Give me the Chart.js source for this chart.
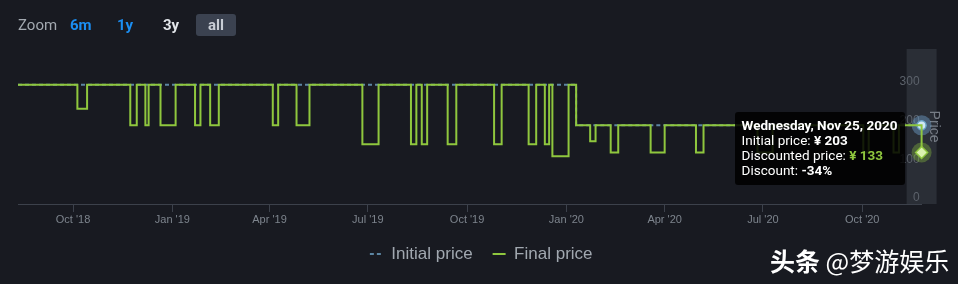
<!DOCTYPE html>
<html lang="en">
<head>
<meta charset="UTF-8">
<title>Price history</title>
<script src="https://cdn.jsdelivr.net/npm/chart.js"></script>
<style>
    body { margin: 0; background: #181a21; font-family: Roboto, Arial, sans-serif; }
    #wrap { position: relative; width: 958px; height: 284px; overflow: hidden; }
    #chart { position: absolute; left: 0; top: 0; }
    .zb { position: absolute; top: 14px; height: 22px; line-height: 22px; font-size: 15px; }
    #zoomLabel { left: 18px; color: #a3a9b0; }
    #z6m { left: 70px; color: #1b8ef2; font-weight: bold; }
    #z1y { left: 117px; color: #1b8ef2; font-weight: bold; }
    #z3y { left: 163px; color: #e2e6ea; font-weight: bold; }
    #zall { left: 196px; width: 40px; text-align: center; background: #3b4250; color: #c9ced6; font-weight: bold; border-radius: 3px; }
    #tip { position: absolute; background: rgba(0,0,0,0.86); color: #fff; font-size: 13.5px; line-height: 15px;
           padding: 6px 7px 7px 7px; border-radius: 3px; white-space: nowrap; pointer-events: none; opacity: 0; }
    #tip .g { color: #8fc73e; }
    #mark { position: absolute; left: 770px; top: 242px; color: #fff; font-family: "Noto Sans CJK SC", sans-serif;
            font-size: 25px; white-space: nowrap; }
    #mark b { font-weight: 700; }
</style>
</head>
<body>
<div id="wrap">
    <canvas id="chart" width="958" height="284"></canvas>
    <span class="zb" id="zoomLabel">Zoom</span>
    <span class="zb" id="z6m">6m</span>
    <span class="zb" id="z1y">1y</span>
    <span class="zb" id="z3y">3y</span>
    <span class="zb" id="zall">all</span>
    <div id="tip"></div>
    <div id="mark"><b>头条</b> @梦游娱乐</div>
</div>

<script>
    // price change points (value holds until the next date)
    const initialDates = ['2018-08-11', '2020-01-10', '2020-11-25'];
    const initialValues = [308, 203, 203];

    const finalDates = [
        '2018-08-11', '2018-10-05', '2018-10-14', '2018-11-23', '2018-11-29', '2018-12-07', '2018-12-10',
        '2018-12-21', '2019-01-04', '2019-01-22', '2019-01-27', '2019-02-05', '2019-02-13', '2019-04-04',
        '2019-04-09', '2019-04-26', '2019-05-08', '2019-06-26', '2019-07-11', '2019-08-10', '2019-08-15',
        '2019-08-20', '2019-08-25', '2019-09-13', '2019-09-21', '2019-10-26', '2019-11-02', '2019-11-27',
        '2019-12-04', '2019-12-12', '2019-12-16', '2019-12-19', '2020-01-03', '2020-01-10', '2020-01-23',
        '2020-01-28', '2020-02-11', '2020-02-18', '2020-03-19', '2020-04-01', '2020-04-30', '2020-05-07',
        '2020-06-26', '2020-07-10', '2020-10-02', '2020-10-07', '2020-10-30', '2020-11-04', '2020-11-25'
    ];
    const finalValues = [
        308, 246, 308, 203, 308, 203, 308,
        203, 308, 203, 308, 203, 308, 203,
        308, 203, 308, 154, 308, 154, 308,
        154, 308, 154, 308, 154, 308, 154,
        308, 154, 308, 123, 308, 203, 162,
        203, 133, 203, 133, 203, 133, 203,
        133, 203, 133, 203, 133, 203, 133
    ];

    const tickDates = ['2018-10-01', '2019-01-01', '2019-04-01', '2019-07-01', '2019-10-01',
                       '2020-01-01', '2020-04-01', '2020-07-01', '2020-10-01'];
    const tickLabels = ["Oct '18", "Jan '19", "Apr '19", "Jul '19", "Oct '19",
                        "Jan '20", "Apr '20", "Jul '20", "Oct '20"];
    const yTicks = [0, 100, 200, 300];

    const toPoints = (dates, values) => dates.map((d, i) => ({ x: Date.parse(d), y: values[i] }));

    const GREEN = '#8fc73e';
    const BLUE = '#5c86a3';
    const DAYS = ['Sunday', 'Monday', 'Tuesday', 'Wednesday', 'Thursday', 'Friday', 'Saturday'];
    const MONTHS = ['Jan', 'Feb', 'Mar', 'Apr', 'May', 'Jun', 'Jul', 'Aug', 'Sep', 'Oct', 'Nov', 'Dec'];

    // grey crosshair band behind the hovered date, and halos under the markers
    const bandPlugin = {
        id: 'band',
        beforeDraw(chart) {
            const act = chart.getActiveElements();
            if (!act.length) return;
            const x = act[0].element.x;
            const { top, bottom } = chart.chartArea;
            const ctx = chart.ctx;
            ctx.save();
            ctx.fillStyle = '#2a2e36';
            ctx.fillRect(x - 15, top, 30, bottom - top);
            ctx.restore();
        },
        beforeDatasetsDraw(chart) {
            const ctx = chart.ctx;
            chart.getActiveElements().forEach(a => {
                ctx.save();
                ctx.fillStyle = a.datasetIndex === 0 ? 'rgba(110,160,205,0.45)' : 'rgba(143,199,62,0.35)';
                ctx.beginPath();
                ctx.arc(a.element.x, a.element.y, 10, 0, Math.PI * 2);
                ctx.fill();
                ctx.restore();
            });
        }
    };

    function externalTip(context) {
        const tip = document.getElementById('tip');
        const tooltip = context.tooltip;
        if (tooltip.opacity === 0 || !tooltip.dataPoints) { tip.style.opacity = 0; return; }
        let init = null, fin = null, x = 0;
        tooltip.dataPoints.forEach(p => {
            x = p.raw.x;
            if (p.datasetIndex === 0) init = p.raw.y; else fin = p.raw.y;
        });
        const d = new Date(x);
        const title = DAYS[d.getUTCDay()] + ', ' + MONTHS[d.getUTCMonth()] + ' ' + d.getUTCDate() + ', ' + d.getUTCFullYear();
        const disc = Math.round((fin - init) / init * 100);
        tip.innerHTML = '<b>' + title + '</b><br>' +
            'Initial price: <b>¥ ' + init + '</b><br>' +
            'Discounted price: <b class="g">¥ ' + fin + '</b><br>' +
            'Discount: <b>' + disc + '%</b>';
        tip.style.opacity = 1;
        tip.style.left = (tooltip.caretX - tip.offsetWidth - 17) + 'px';
        tip.style.top = (tooltip.caretY - 27) + 'px';
    }

    // legend lines should copy the dataset's line, not the point
    function legendLabels(chart) {
        const items = Chart.defaults.plugins.legend.labels.generateLabels(chart);
        items.forEach(it => {
            const ds = chart.data.datasets[it.datasetIndex];
            it.strokeStyle = ds.borderColor;
            it.lineWidth = ds.borderWidth;
            it.lineDash = ds.borderDash || [];
            it.pointStyle = 'line';
        });
        return items.sort((a, b) => a.datasetIndex - b.datasetIndex);
    }

    const chart = new Chart(document.getElementById('chart'), {
        type: 'line',
        data: {
            datasets: [{
                label: 'Initial price',
                data: toPoints(initialDates, initialValues),
                stepped: true,
                clip: false,
                borderColor: BLUE,
                borderWidth: 2,
                borderDash: [4, 3],
                pointRadius: 0,
                pointStyle: 'circle',
                pointHoverRadius: 4.5,
                pointHoverBackgroundColor: '#cfe7f2',
                pointHoverBorderColor: '#6aa4c8',
                pointHoverBorderWidth: 1.5,
                order: 1
            }, {
                label: 'Final price',
                data: toPoints(finalDates, finalValues),
                stepped: true,
                clip: false,
                borderColor: GREEN,
                borderWidth: 2,
                pointRadius: 0,
                pointStyle: 'rectRot',
                pointHoverRadius: 6,
                pointHoverBackgroundColor: '#dcf2b0',
                pointHoverBorderColor: GREEN,
                pointHoverBorderWidth: 1.5,
                order: 0
            }]
        },
        options: {
            responsive: false,
            animation: false,
            events: [],
            layout: { padding: { left: 18, right: 13.6, top: 49, bottom: 11.5 } },
            scales: {
                x: {
                    type: 'linear',
                    min: Date.parse(finalDates[0]),
                    max: Date.parse(finalDates[finalDates.length - 1]),
                    afterBuildTicks: s => { s.ticks = tickDates.map(d => ({ value: Date.parse(d) })); },
                    afterFit: s => { s.height = 21.5; },
                    grid: { drawOnChartArea: false, drawTicks: true, tickLength: 8, color: '#3c414b' },
                    border: { display: true, color: '#3c414b' },
                    ticks: {
                        autoSkip: false, maxRotation: 0, padding: 1,
                        color: '#7d848d', font: { size: 11 },
                        callback: (v, i) => tickLabels[i]
                    }
                },
                y: {
                    position: 'right',
                    min: 0,
                    max: 400,
                    afterBuildTicks: s => { s.ticks = yTicks.map(v => ({ value: v })); },
                    grid: { display: false },
                    border: { display: false },
                    ticks: { mirror: true, padding: -2, labelOffset: -6, color: '#5c626b', font: { size: 12 } },
                    title: {
                        display: true, text: 'Price', color: '#767c85',
                        font: { size: 14 }, padding: { top: 2, bottom: 0 }
                    }
                }
            },
            plugins: {
                legend: {
                    position: 'bottom',
                    labels: {
                        usePointStyle: true, pointStyleWidth: 13,
                        color: '#a1a8b0', font: { size: 17 }, padding: 20,
                        generateLabels: legendLabels
                    }
                },
                tooltip: { enabled: false, external: externalTip }
            }
        },
        plugins: [bandPlugin]
    });

    // show the last date as hovered, like the reference
    const active = [
        { datasetIndex: 0, index: initialDates.length - 1 },
        { datasetIndex: 1, index: finalDates.length - 1 }
    ];
    chart.setActiveElements(active);
    chart.tooltip.setActiveElements(active, { x: 919, y: 140 });
    chart.update();
</script>
</body>
</html>
